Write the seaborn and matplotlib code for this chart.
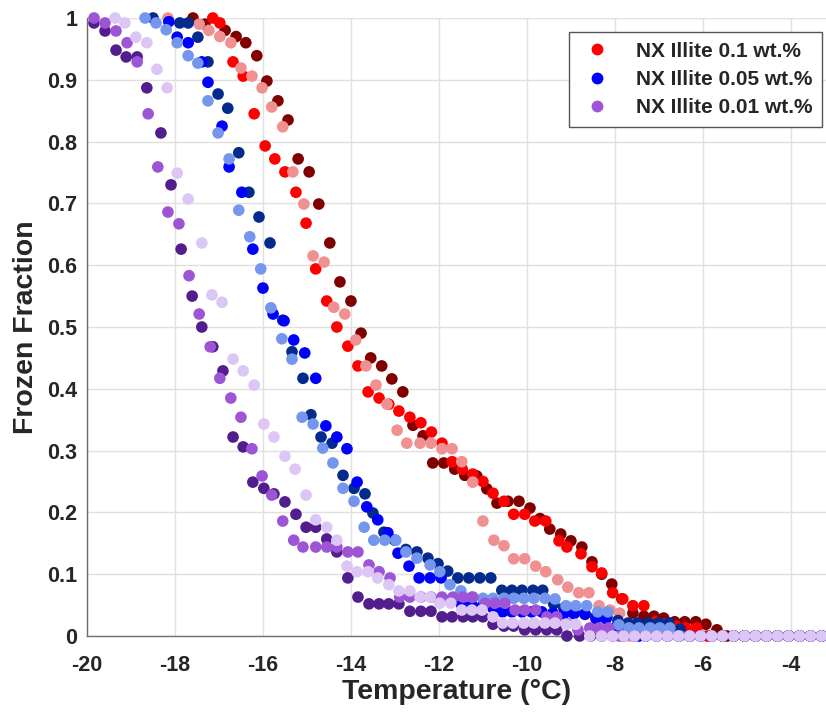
import matplotlib
matplotlib.use("Agg")
import matplotlib.pyplot as plt
from matplotlib.lines import Line2D
import seaborn as sns
import pandas as pd

# ---------------- data (temperature in degC, frozen fraction) ----------------
RED_T = [-17.14,-16.98,-16.68,-16.45,-16.20,-15.95,-15.73,-15.50,-15.25,-15.02,-14.80,-14.55,-14.32,-14.07,-13.84,-13.61,-13.36,-13.14,-12.91,-12.66,-12.41,-12.17,-11.93,-11.70,-11.47,-11.23,-11.00,-10.77,-10.52,-10.30,-10.05,-9.82,-9.57,-9.27,-9.09,-8.77,-8.52,-8.30,-8.05,-7.82,-7.59,-7.34,-7.09,-6.86,-6.61,-6.39,-6.14,-5.9]
RED_FF = [1.0,0.992,0.929,0.906,0.845,0.793,0.772,0.751,0.718,0.668,0.594,0.542,0.5,0.469,0.437,0.395,0.385,0.375,0.364,0.354,0.345,0.33,0.312,0.282,0.27,0.262,0.25,0.231,0.218,0.197,0.197,0.186,0.186,0.154,0.144,0.133,0.112,0.102,0.07,0.06,0.049,0.049,0.023,0.02,0.016,0.013,0.013,0.0]

DKRED_T = [-17.59,-17.32,-16.86,-16.61,-16.39,-16.14,-15.91,-15.66,-15.43,-15.20,-14.95,-14.73,-14.48,-14.25,-14.00,-13.77,-13.55,-13.30,-13.07,-12.82,-12.59,-12.36,-12.14,-11.89,-11.64,-11.41,-11.14,-10.91,-10.68,-10.43,-10.18,-9.93,-9.70,-9.48,-9.23,-9.00,-8.75,-8.52,-8.30,-8.07,-7.84,-7.59,-7.34,-7.11,-6.89,-6.64,-6.41,-6.16,-5.93,-5.68,-5.45]
DKRED_FF = [1.0,0.99,0.98,0.97,0.96,0.939,0.898,0.866,0.835,0.772,0.751,0.699,0.636,0.573,0.542,0.49,0.45,0.437,0.416,0.395,0.341,0.324,0.28,0.28,0.27,0.26,0.259,0.238,0.215,0.218,0.218,0.207,0.19,0.173,0.165,0.154,0.144,0.12,0.10,0.084,0.06,0.037,0.032,0.032,0.029,0.023,0.023,0.023,0.019,0.01,0.0]

LTRED_T = [-18.16,-17.45,-17.23,-16.98,-16.73,-16.50,-16.25,-16.02,-15.80,-15.55,-15.32,-15.07,-14.86,-14.61,-14.39,-14.14,-13.89,-13.66,-13.43,-13.18,-12.95,-12.73,-12.43,-12.18,-11.93,-11.70,-11.48,-11.23,-11.00,-10.75,-10.52,-10.30,-10.05,-9.80,-9.57,-9.30,-9.07,-8.82,-8.59,-8.36,-8.11,-7.89,-7.66]
LTRED_FF = [1.0,0.99,0.98,0.97,0.96,0.919,0.906,0.887,0.856,0.824,0.751,0.699,0.615,0.605,0.532,0.521,0.479,0.437,0.406,0.375,0.333,0.312,0.312,0.312,0.303,0.303,0.282,0.249,0.186,0.155,0.146,0.125,0.125,0.113,0.104,0.091,0.079,0.07,0.07,0.049,0.042,0.037,0.0]

BLUE_T = [-18.14,-17.95,-17.70,-17.39,-17.25,-16.93,-16.77,-16.48,-16.23,-16.00,-15.77,-15.52,-15.30,-15.05,-14.80,-14.57,-14.32,-14.09,-13.86,-13.64,-13.39,-13.16,-12.93,-12.68,-12.45,-12.20,-11.95,-11.70,-11.48,-11.25,-11.00,-10.77,-10.55,-10.34,-10.11,-9.89,-9.66,-9.41,-9.16,-8.93,-8.68,-8.43,-8.20,-7.95,-7.70,-7.45]
BLUE_FF = [0.994,0.969,0.96,0.929,0.896,0.825,0.759,0.718,0.626,0.563,0.521,0.51,0.479,0.458,0.417,0.34,0.322,0.303,0.249,0.209,0.188,0.167,0.134,0.113,0.094,0.094,0.094,0.06,0.05,0.05,0.05,0.045,0.039,0.039,0.039,0.039,0.039,0.037,0.036,0.036,0.036,0.028,0.028,0.016,0.01,0.0]

NAVY_T = [-18.50,-17.89,-17.70,-17.48,-17.25,-17.02,-16.80,-16.55,-16.32,-16.09,-15.84,-15.55,-15.34,-15.09,-14.91,-14.68,-14.43,-14.18,-13.93,-13.68,-13.50,-13.25,-13.00,-12.75,-12.50,-12.25,-12.02,-11.80,-11.57,-11.32,-11.07,-10.82,-10.57,-10.34,-10.11,-9.86,-9.64,-9.39,-9.16,-8.93,-8.68,-8.43,-8.18,-7.93,-7.70,-7.48,-7.23,-7.00,-6.77,-6.52,-6.29]
NAVY_FF = [1.0,0.992,0.992,0.969,0.929,0.877,0.854,0.782,0.718,0.678,0.636,0.511,0.46,0.417,0.358,0.322,0.312,0.26,0.239,0.23,0.199,0.168,0.155,0.14,0.136,0.126,0.117,0.105,0.094,0.094,0.094,0.094,0.074,0.074,0.074,0.074,0.074,0.052,0.045,0.04,0.035,0.031,0.031,0.025,0.021,0.021,0.021,0.021,0.021,0.011,0.0]

LTBLUE_T = [-18.68,-18.43,-18.20,-17.95,-17.70,-17.48,-17.25,-17.02,-16.77,-16.55,-16.30,-16.05,-15.82,-15.57,-15.34,-15.11,-14.86,-14.64,-14.41,-14.18,-13.93,-13.70,-13.48,-13.23,-12.98,-12.75,-12.50,-12.20,-11.98,-11.75,-11.50,-11.25,-11.00,-10.77,-10.52,-10.30,-10.07,-9.84,-9.59,-9.36,-9.11,-8.89,-8.64,-8.39,-8.16,-7.91,-7.68,-7.45,-7.20,-6.98,-6.75,-6.52]
LTBLUE_FF = [1.0,0.992,0.981,0.96,0.939,0.927,0.866,0.814,0.772,0.689,0.646,0.594,0.531,0.481,0.448,0.354,0.343,0.304,0.28,0.239,0.218,0.176,0.155,0.155,0.155,0.136,0.126,0.115,0.104,0.083,0.073,0.063,0.061,0.061,0.061,0.061,0.061,0.061,0.061,0.06,0.049,0.049,0.049,0.039,0.039,0.018,0.013,0.013,0.013,0.013,0.013,0.0]

DKPUR_T = [-19.84,-19.59,-19.34,-19.11,-18.86,-18.64,-18.32,-18.09,-17.86,-17.61,-17.39,-17.14,-16.91,-16.68,-16.45,-16.23,-15.98,-15.75,-15.50,-15.25,-15.02,-14.80,-14.55,-14.32,-14.07,-13.84,-13.59,-13.36,-13.14,-12.91,-12.66,-12.41,-12.18,-11.93,-11.70,-11.45,-11.23,-11.00,-10.77,-10.52,-10.30,-10.05,-9.80,-9.55,-9.32,-9.09]
DKPUR_FF = [0.992,0.979,0.948,0.937,0.937,0.887,0.814,0.73,0.626,0.55,0.5,0.468,0.429,0.322,0.306,0.249,0.239,0.23,0.217,0.197,0.176,0.176,0.157,0.136,0.094,0.063,0.052,0.052,0.052,0.052,0.04,0.04,0.04,0.031,0.031,0.031,0.031,0.031,0.019,0.016,0.016,0.01,0.01,0.01,0.01,0.0]

MDPUR_T = [-19.84,-19.59,-19.34,-19.09,-18.86,-18.61,-18.39,-18.16,-17.91,-17.68,-17.45,-17.20,-16.98,-16.73,-16.50,-16.25,-16.02,-15.80,-15.55,-15.30,-15.09,-14.80,-14.55,-14.32,-14.07,-13.84,-13.59,-13.36,-13.11,-12.89,-12.66,-12.41,-12.18,-11.93,-11.68,-11.45,-11.23,-10.95,-10.73,-10.50,-10.27,-10.05,-9.80,-9.55,-9.32,-9.09,-8.84,-8.57,-8.36,-8.14,-7.9]
MDPUR_FF = [1.0,0.992,0.979,0.96,0.929,0.845,0.759,0.686,0.667,0.583,0.521,0.468,0.417,0.385,0.354,0.303,0.259,0.228,0.186,0.155,0.144,0.144,0.144,0.144,0.136,0.136,0.115,0.104,0.094,0.063,0.063,0.063,0.063,0.063,0.063,0.063,0.063,0.053,0.053,0.053,0.042,0.042,0.042,0.031,0.031,0.02,0.01,0.013,0.013,0.013,0.0]

LAV_T = [-19.36,-19.14,-18.89,-18.64,-18.41,-18.18,-17.95,-17.70,-17.39,-17.16,-16.93,-16.68,-16.45,-16.20,-15.98,-15.75,-15.50,-15.27,-15.02,-14.80,-14.55,-14.32,-14.09,-13.86,-13.61,-13.39,-13.14,-12.91,-12.66,-12.43,-12.20,-11.98,-11.73,-11.48,-11.25,-11.02,-10.77,-10.55,-10.32,-10.07,-9.84,-9.59,-9.36,-9.11,-8.89,-8.57]
LAV_FF = [1.0,0.992,0.969,0.96,0.917,0.887,0.749,0.707,0.636,0.552,0.54,0.448,0.429,0.406,0.343,0.322,0.291,0.27,0.228,0.188,0.176,0.155,0.113,0.104,0.104,0.094,0.083,0.073,0.073,0.063,0.063,0.053,0.053,0.042,0.042,0.042,0.031,0.021,0.021,0.021,0.021,0.021,0.021,0.019,0.019,0.0]

# temperatures at which the FF = 0 readings continue for every series
TAIL_T = [-8.8,-8.55,-8.3,-8.05,-7.8,-7.55,-7.3,-7.05,-6.8,-6.55,-6.3,-6.05,-5.8,-5.55,-5.3,-5.05,-4.8,-4.55,-4.3,-4.05,-3.8,-3.55,-3.3]

LEGEND_LABELS = ["NX Illite 0.1 wt.%", "NX Illite 0.05 wt.%", "NX Illite 0.01 wt.%"]
X_TICKS = [-20, -18, -16, -14, -12, -10, -8, -6, -4]
Y_TICKS = [0, 0.1, 0.2, 0.3, 0.4, 0.5, 0.6, 0.7, 0.8, 0.9, 1.0]
Y_TICK_LABELS = ["0", "0.1", "0.2", "0.3", "0.4", "0.5", "0.6", "0.7", "0.8", "0.9", "1"]

# drawing order (later = on top)
SERIES = [
    ("red_dark", DKRED_T, DKRED_FF, "#800000"),
    ("red", RED_T, RED_FF, "#FF0000"),
    ("red_light", LTRED_T, LTRED_FF, "#F09090"),
    ("blue_dark", NAVY_T, NAVY_FF, "#032B8E"),
    ("blue", BLUE_T, BLUE_FF, "#0000FF"),
    ("blue_light", LTBLUE_T, LTBLUE_FF, "#7596EE"),
    ("pur_dark", DKPUR_T, DKPUR_FF, "#521E8E"),
    ("pur", MDPUR_T, MDPUR_FF, "#9D55D5"),
    ("pur_light", LAV_T, LAV_FF, "#DCC6F5"),
]

rows = []
for name, ts, ffs, _c in SERIES:
    assert len(ts) == len(ffs), name
    for t, f in zip(ts, ffs):
        rows.append((name, t, f))
    last = ts[-1]
    for t in TAIL_T:
        if t > last + 0.12:
            rows.append((name, t, 0.0))
df = pd.DataFrame(rows, columns=["series", "T", "FF"])
palette = {name: c for name, _t, _f, c in SERIES}

sns.set_theme(style="white")
plt.rcParams["font.family"] = ["Liberation Sans", "DejaVu Sans"]
plt.rcParams["font.weight"] = "bold"

fig = plt.figure(figsize=(8.26, 7.14), dpi=100)
ax = fig.add_axes([87 / 826, 78 / 714, (826 - 87) / 826, (636 - 18) / 714])

sns.scatterplot(data=df, x="T", y="FF", hue="series", palette=palette,
                s=70, linewidth=0, edgecolor="none", alpha=1.0,
                legend=False, ax=ax, clip_on=False, zorder=3)

ax.set_xlim(-20, -3.2)
ax.set_ylim(0, 1)
ax.set_xticks(X_TICKS)
ax.set_xticklabels([str(v) for v in X_TICKS])
ax.set_yticks(Y_TICKS)
ax.set_yticklabels(Y_TICK_LABELS)
ax.grid(True, color="#e0e0e0", linewidth=1.0)
ax.set_axisbelow(True)
for side in ["top", "right"]:
    ax.spines[side].set_visible(False)
for side in ["left", "bottom"]:
    ax.spines[side].set_color("#6e6e6e")
    ax.spines[side].set_linewidth(1.0)
ax.tick_params(axis="both", direction="in", length=5, width=1, color="#6e6e6e",
               labelsize=15.5, labelcolor="#262626")
ax.tick_params(axis="x", pad=14)
ax.tick_params(axis="y", pad=7)
for lab in ax.get_xticklabels() + ax.get_yticklabels():
    lab.set_fontweight("bold")

ax.set_xlabel("Temperature (°C)", fontsize=20.5, fontweight="bold", color="#262626", labelpad=2)
ax.set_ylabel("Frozen Fraction", fontsize=20.5, fontweight="bold", color="#262626", labelpad=6)

handles = [Line2D([0], [0], marker="o", linestyle="none", markersize=8.5,
                  markerfacecolor=c, markeredgecolor="none")
           for c in ["#FF0000", "#0000FF", "#9D55D5"]]
leg = ax.legend(handles, LEGEND_LABELS, loc="upper right", bbox_to_anchor=(0.995, 0.977),
                frameon=True, fancybox=False, framealpha=1, edgecolor="#555555",
                prop={"weight": "bold", "size": 15}, handletextpad=1.0,
                borderpad=0.45, labelspacing=0.45, handlelength=1.8,
                borderaxespad=0.0)
leg.get_frame().set_linewidth(1.0)
leg.set_zorder(10)

fig.savefig("out.png", dpi=100)
